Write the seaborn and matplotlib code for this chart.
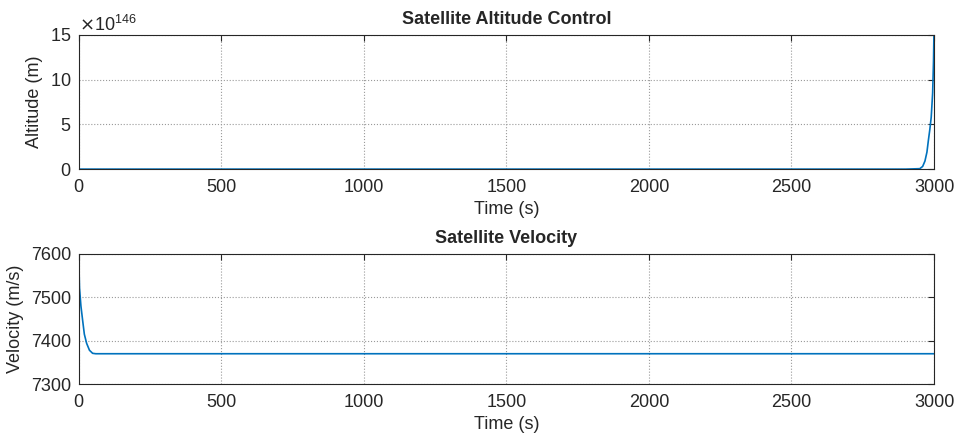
import numpy as np
import pandas as pd
import matplotlib
matplotlib.use("Agg")
import matplotlib.pyplot as plt
from matplotlib.ticker import MultipleLocator, ScalarFormatter
import seaborn as sns

# altitude (m) (scale x10^146)
alt_time = [0, 500, 1000, 1500, 2000, 2500, 2900, 2950, 2960, 2968, 2975, 2980, 2985, 2990, 2995, 2998, 3000]
alt_vals = [0, 0, 0, 0, 0, 0, 0, 0.05, 0.3, 0.9, 1.9, 3.2, 4.4, 5.8, 8.5, 12.0, 16.0]
alt_scale = 1e146

# velocity (m/s), bottom panel
vel_time = [0, 3, 8, 14, 20, 28, 38, 49, 60, 100, 500, 1000, 1500, 2000, 2500, 3000]
vel_vals = [7600, 7522, 7480, 7447, 7415, 7394, 7378, 7371, 7370, 7370, 7370, 7370, 7370, 7370, 7370, 7370]

sns.set_theme(style="white")
plt.rcParams['font.family'] = ['Liberation Sans', 'DejaVu Sans']

blue = "#0072BD"
df_alt = pd.DataFrame({"t": alt_time, "alt": np.array(alt_vals) * alt_scale})
df_vel = pd.DataFrame({"t": vel_time, "v": vel_vals})

fig = plt.figure(figsize=(9.59, 4.37), dpi=100)
ax1 = fig.add_axes([0.082, 0.613, 0.892, 0.307])
ax2 = fig.add_axes([0.082, 0.121, 0.892, 0.298])

sns.lineplot(data=df_alt, x="t", y="alt", ax=ax1, color=blue, linewidth=1.2)
sns.lineplot(data=df_vel, x="t", y="v", ax=ax2, color=blue, linewidth=1.2)

def style(ax, title, ylabel):
    ax.set_xlim(0, 3000)
    ax.xaxis.set_major_locator(MultipleLocator(500))
    ax.set_title(title, fontsize=13, fontweight="bold", pad=8)
    ax.set_xlabel("Time (s)", fontsize=13, labelpad=4)
    ax.set_ylabel(ylabel, fontsize=13, labelpad=5)
    ax.grid(True, linestyle=":", color="#9a9a9a", linewidth=0.8)
    ax.tick_params(direction="in", length=4, width=0.8, labelsize=13,
                   top=True, right=True, colors="#262626")
    ax.tick_params(axis="x", pad=7)
    ax.tick_params(axis="y", pad=5)
    for s in ax.spines.values():
        s.set_color("#262626")
        s.set_linewidth(0.8)

style(ax1, "Satellite Altitude Control", "Altitude (m)")
ax1.set_ylim(0, 15 * alt_scale)
ax1.yaxis.set_major_locator(MultipleLocator(5 * alt_scale))
fmt = ScalarFormatter(useMathText=True)
fmt.set_powerlimits((146, 146))
ax1.yaxis.set_major_formatter(fmt)
ax1.yaxis.get_offset_text().set_fontsize(13)

style(ax2, "Satellite Velocity", "Velocity (m/s)")
ax2.set_ylim(7300, 7600)
ax2.yaxis.set_major_locator(MultipleLocator(100))

fig.savefig("out.png", dpi=100)
